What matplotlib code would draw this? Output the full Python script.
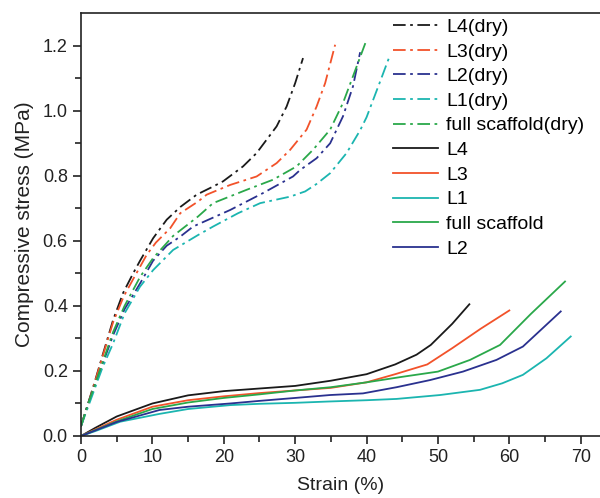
import matplotlib.pyplot as plt

plt.rcParams['font.family'] = ['Liberation Sans', 'DejaVu Sans']

# dry samples (dash-dot)
l4d_x = [0, 1, 2, 3.1, 4.5, 5.9, 7.3, 8.3, 10.1, 12, 13.9, 16.2, 18.5, 19.9, 22.7, 24.6, 26, 27.4, 28.8, 30, 31.1]
l4d_y = [0.03, 0.10, 0.172, 0.254, 0.357, 0.44, 0.50, 0.54, 0.608, 0.665, 0.704, 0.742, 0.767, 0.783, 0.829, 0.87, 0.911, 0.952, 1.013, 1.085, 1.162]

l3d_x = [0, 1, 2, 3.1, 4.5, 6, 7.5, 9.2, 10.5, 12.5, 13.9, 16.4, 17.6, 20.9, 24.6, 27.4, 29.3, 31.6, 33, 34.2, 35.6]
l3d_y = [0.03, 0.10, 0.17, 0.25, 0.35, 0.43, 0.49, 0.557, 0.595, 0.639, 0.685, 0.721, 0.742, 0.772, 0.798, 0.839, 0.88, 0.942, 1.013, 1.085, 1.203]

l2d_x = [0, 1, 2, 3, 4.5, 6.1, 8.3, 10.1, 12, 13.9, 15.7, 20.9, 25.5, 29.7, 30.7, 33, 34.9, 36.7, 38.1, 39.1]
l2d_y = [0.03, 0.10, 0.16, 0.22, 0.31, 0.39, 0.47, 0.539, 0.585, 0.613, 0.644, 0.695, 0.747, 0.798, 0.818, 0.854, 0.9, 0.983, 1.075, 1.18]

l1d_x = [0, 1, 2, 3, 4.5, 6.1, 8.26, 10.1, 12.9, 16.4, 18.5, 22, 25.1, 29.3, 31.4, 33, 34.9, 37.2, 39.1, 40, 41.9, 43.3]
l1d_y = [0.03, 0.09, 0.15, 0.21, 0.285, 0.377, 0.459, 0.51, 0.572, 0.618, 0.644, 0.685, 0.716, 0.736, 0.752, 0.775, 0.808, 0.87, 0.94, 0.98, 1.09, 1.172]

fsd_x = [0, 1, 2, 3, 4.5, 6.1, 8.3, 10.1, 12.9, 16.4, 18.5, 23.2, 26.9, 30.2, 32.5, 34.9, 36.7, 38.1, 40]
fsd_y = [0.03, 0.10, 0.16, 0.225, 0.32, 0.40, 0.49, 0.547, 0.615, 0.675, 0.716, 0.757, 0.788, 0.829, 0.88, 0.942, 1.024, 1.106, 1.218]

# wet samples (solid)
l4_x = [0, 2, 5, 10, 15, 20, 25, 30, 35, 40, 44, 47, 49, 52, 54.4]
l4_y = [0, 0.025, 0.06, 0.10, 0.125, 0.138, 0.146, 0.154, 0.17, 0.19, 0.22, 0.25, 0.28, 0.345, 0.405]

l3_x = [0, 2, 5, 10, 15, 20, 25, 30, 35, 40, 44, 48.5, 52, 56, 60]
l3_y = [0, 0.02, 0.05, 0.09, 0.11, 0.122, 0.132, 0.14, 0.148, 0.165, 0.19, 0.22, 0.27, 0.33, 0.386]

l1_x = [0, 2, 5.5, 11, 15, 20.9, 25, 30, 34.6, 40, 44.2, 50.3, 55.9, 59, 61.9, 65.2, 68.6]
l1_y = [0, 0.015, 0.044, 0.068, 0.083, 0.095, 0.099, 0.102, 0.106, 0.11, 0.114, 0.126, 0.142, 0.162, 0.188, 0.239, 0.306]

fs_x = [0, 2, 5, 10, 15, 20, 25, 30, 35, 40, 45, 50, 54.5, 58.7, 63, 67.8]
fs_y = [0, 0.018, 0.045, 0.083, 0.103, 0.117, 0.128, 0.14, 0.15, 0.165, 0.182, 0.198, 0.234, 0.28, 0.375, 0.475]

l2_x = [0, 2, 5, 11, 15, 20.9, 25, 30, 34.9, 39.5, 44.2, 48.9, 53.5, 58.2, 61.9, 67.2]
l2_y = [0, 0.017, 0.043, 0.08, 0.09, 0.10, 0.108, 0.117, 0.126, 0.131, 0.15, 0.172, 0.198, 0.234, 0.275, 0.383]

black = '#1a1a1a'
orange = '#f2522a'
blue = '#2a318f'
cyan = '#1bb5b0'
green = '#2aa84a'

dashdot = (0, (7, 2.5, 1.5, 2.5))

fig = plt.figure(figsize=(6, 4.98), dpi=100)
ax = fig.add_axes([0.135, 0.1245, 0.865, 0.849])

ax.plot(l4d_x, l4d_y, color=black, ls=dashdot, lw=1.3, label='L4(dry)')
ax.plot(l3d_x, l3d_y, color=orange, ls=dashdot, lw=1.3, label='L3(dry)')
ax.plot(l2d_x, l2d_y, color=blue, ls=dashdot, lw=1.3, label='L2(dry)')
ax.plot(l1d_x, l1d_y, color=cyan, ls=dashdot, lw=1.3, label='L1(dry)')
ax.plot(fsd_x, fsd_y, color=green, ls=dashdot, lw=1.3, label='full scaffold(dry)')
ax.plot(l4_x, l4_y, color=black, lw=1.3, label='L4')
ax.plot(l3_x, l3_y, color=orange, lw=1.3, label='L3')
ax.plot(l1_x, l1_y, color=cyan, lw=1.3, label='L1')
ax.plot(fs_x, fs_y, color=green, lw=1.3, label='full scaffold')
ax.plot(l2_x, l2_y, color=blue, lw=1.3, label='L2')

ax.set_xlim(0, 72.7)
ax.set_ylim(0, 1.3)
ax.set_xticks([0, 10, 20, 30, 40, 50, 60, 70])
ax.set_xticks(range(5, 75, 10), minor=True)
ax.set_yticks([0.0, 0.2, 0.4, 0.6, 0.8, 1.0, 1.2])
ax.set_yticks([0.1, 0.3, 0.5, 0.7, 0.9, 1.1], minor=True)
ax.set_yticklabels(['0.0', '0.2', '0.4', '0.6', '0.8', '1.0', '1.2'])
ax.tick_params(which='both', direction='out', width=1.2, labelsize=13, colors='#222222')
ax.tick_params(which='major', length=6)
ax.tick_params(which='minor', length=4)
for s in ax.spines.values():
    s.set_linewidth(1.2)
    s.set_color('#222222')
ax.spines['right'].set_visible(False)

ax.set_xlabel('Strain (%)', fontsize=14, color='#222222', labelpad=8)
ax.set_ylabel('Compressive stress (MPa)', fontsize=15, color='#222222', labelpad=6)

ax.legend(loc='upper left', bbox_to_anchor=(0.586, 1.006), frameon=False, fontsize=14,
          handlelength=2.3, labelspacing=0.36, handletextpad=0.45, borderaxespad=0)

fig.savefig('out.png', dpi=100)
